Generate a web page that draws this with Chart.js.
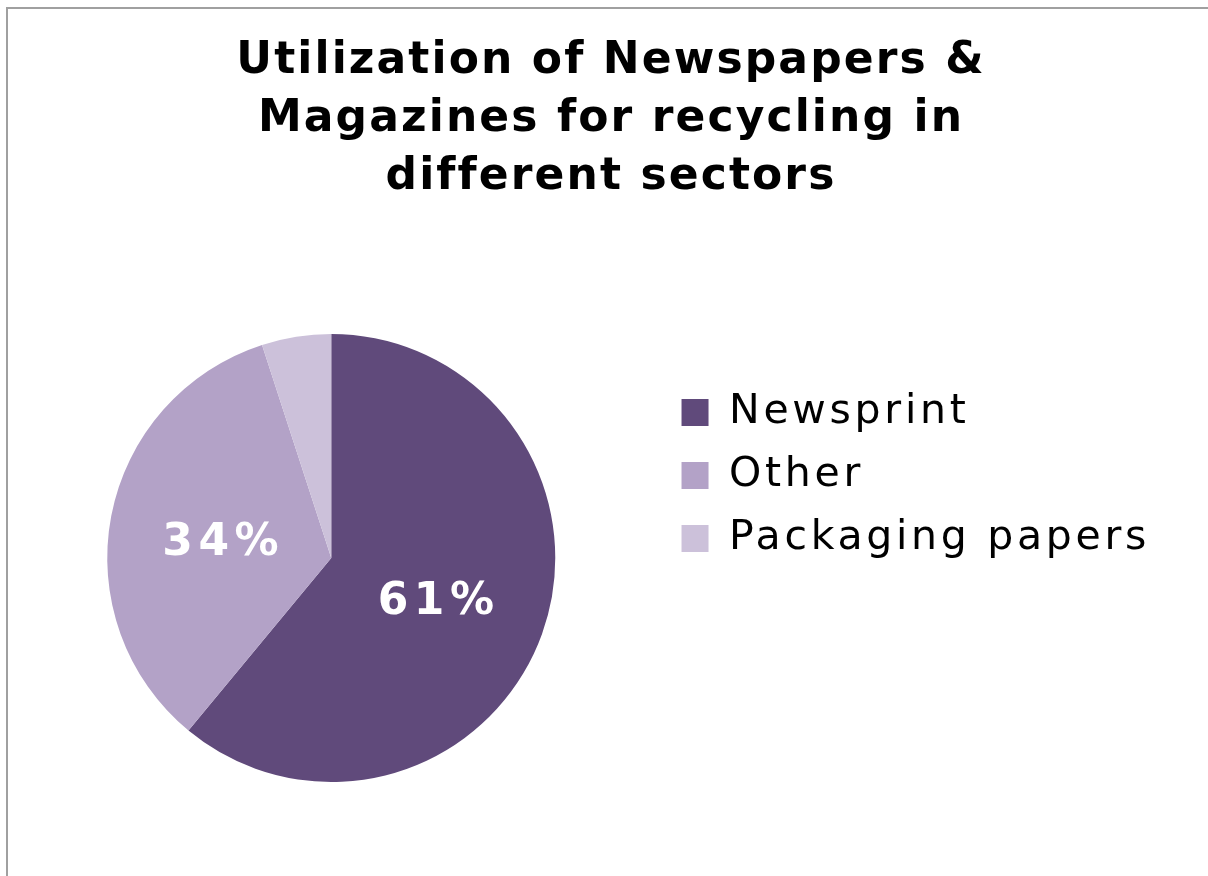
<!DOCTYPE html>
<html>
<head>
<meta charset="utf-8">
<script src="https://cdn.jsdelivr.net/npm/chart.js@4.4.1/dist/chart.umd.min.js"></script>
<style>
  html, body { margin: 0; padding: 0; background: #fff; overflow: hidden; }
  #frame { position: absolute; left: 6px; top: 7px; width: 1400px; height: 1000px;
           border: 2px solid #a0a0a0; box-sizing: border-box; }
  #wrap { position: absolute; left: 0; top: 0; width: 1208px; height: 876px; }
</style>
</head>
<body>
<div id="frame"></div>
<div id="wrap"><canvas id="pie-chart" width="1208" height="876"></canvas></div>
<script>
// data
var categories = ['Newsprint', 'Other', 'Packaging papers'];
var shares = [61, 34, 5];
var shareLabels = ['61%', '34%', ''];
var sliceColors = ['#604a7b', '#b3a2c7', '#ccc1da'];
var titleLines = ['Utilization of Newspapers &', 'Magazines for recycling in', 'different sectors'];

// the original font is wider than DejaVu, so space the letters out a bit
function spaceOut(box, px) {
  if (!box || box._spaced) return;
  ['fit', 'draw'].forEach(function(fn) {
    var orig = box[fn];
    box[fn] = function() {
      var c = this.ctx;
      var prev = c.letterSpacing;
      c.letterSpacing = px;
      var r = orig.apply(this, arguments);
      c.letterSpacing = prev;
      return r;
    };
  });
  box._spaced = true;
}

var spacingPlugin = {
  id: 'spacing',
  beforeLayout: function(chart) {
    spaceOut(chart.legend, '3.7px');
    spaceOut(chart.titleBlock, '2.1px');
  },
  // keep the title centred on the frame rather than the padded area
  afterLayout: function(chart) {
    if (chart.titleBlock) {
      chart.titleBlock.left = 14;
      chart.titleBlock.right = 1208;
    }
  }
};

// percentage text on the slices
var sliceLabelPlugin = {
  id: 'sliceLabels',
  afterDatasetsDraw: function(chart) {
    var ctx = chart.ctx;
    var arcs = chart.getDatasetMeta(0).data;
    ctx.save();
    ctx.fillStyle = '#ffffff';
    ctx.font = 'bold 44px "DejaVu Sans"';
    ctx.letterSpacing = '5.5px';
    ctx.textAlign = 'center';
    ctx.textBaseline = 'middle';
    arcs.forEach(function(arc, i) {
      if (!shareLabels[i]) return;
      var p = arc.tooltipPosition();
      ctx.fillText(shareLabels[i], p.x + 2, p.y + 7);
    });
    ctx.restore();
  }
};

var ctx = document.getElementById('pie-chart').getContext('2d');
var pieChart = new Chart(ctx, {
  type: 'pie',
  data: {
    labels: categories,
    datasets: [{
      data: shares,
      backgroundColor: sliceColors,
      borderWidth: 0,
      radius: 224
    }]
  },
  options: {
    responsive: false,
    animation: false,
    layout: { padding: { left: 3, right: 48, top: 0, bottom: 130 } },
    plugins: {
      title: {
        display: true,
        text: titleLines,
        color: '#000000',
        font: { family: '"DejaVu Sans"', size: 44, weight: 'bold', lineHeight: 58 / 44 },
        padding: { top: 33, bottom: 163 }
      },
      legend: {
        position: 'right',
        align: 'start',
        fullSize: false,
        labels: {
          color: '#000000',
          font: { family: '"DejaVu Sans"', size: 41 },
          boxWidth: 27,
          boxHeight: 27,
          padding: 22
        }
      },
      tooltip: { enabled: false }
    }
  },
  plugins: [spacingPlugin, sliceLabelPlugin]
});
</script>
</body>
</html>
